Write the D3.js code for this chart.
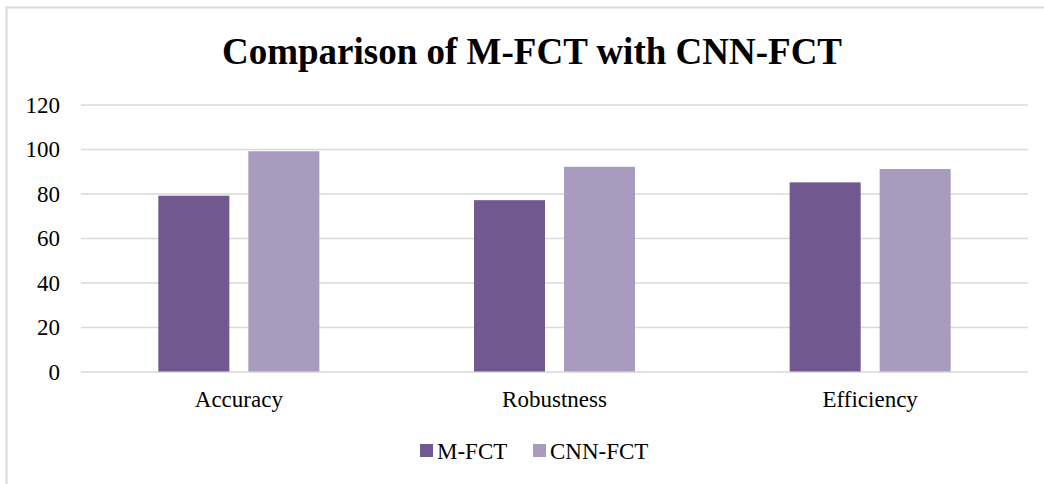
<!DOCTYPE html>
<html>
<head>
<meta charset="utf-8">
<script src="https://cdn.jsdelivr.net/npm/d3@7"></script>
<style>
  html, body { margin: 0; padding: 0; background: #fff; }
  svg { display: block; }
</style>
</head>
<body>
<svg id="chart" width="1044" height="484"></svg>
<script>
const categories = ["Accuracy", "Robustness", "Efficiency"];
const seriesNames = ["M-FCT", "CNN-FCT"];
const mfctValues = [79, 77, 85];
const cnnfctValues = [99, 92, 91];
const yTicks = [0, 20, 40, 60, 80, 100, 120];
const seriesColors = ["#71588F", "#A99BBD"];
const title = "Comparison of M-FCT with CNN-FCT";

const FONT = "'Liberation Serif'";
const seriesValues = [mfctValues, cnnfctValues];
const data = categories.map((c, i) => ({ category: c, values: seriesNames.map((s, j) => ({ series: s, value: seriesValues[j][i], idx: j })) }));

const svg = d3.select("#chart");
const W = 1044, H = 484;
const plot = { left: 81, right: 1028, top: 104.5, bottom: 371.5 };

// frame
svg.append("rect").attr("x", 6.5).attr("y", 7.5).attr("width", W + 10).attr("height", H + 10)
  .attr("fill", "#fff").attr("stroke", "#d9d9d9").attr("stroke-width", 2);

// title
svg.append("text").attr("x", 532).attr("y", 63.5).attr("text-anchor", "middle")
  .style("font-family", FONT).style("font-size", "37px").style("font-weight", "bold").style("fill", "#000")
  .text(title);

const y = d3.scaleLinear().domain([0, 120]).range([plot.bottom, plot.top]);
const x0 = d3.scaleBand().domain(categories).range([plot.left, plot.right]).padding(0);
const x1 = d3.scaleBand().domain(seriesNames).range([0, x0.bandwidth()]).paddingInner(0.211).paddingOuter(0.859);

// gridlines + y labels
const yAxis = d3.axisLeft(y).tickValues(yTicks).tickSize(-(plot.right - plot.left)).tickPadding(21).tickFormat(d3.format("d"));
const gy = svg.append("g").attr("transform", `translate(${plot.left},0)`).call(yAxis);
gy.attr("font-family", null);
gy.select(".domain").remove();
gy.selectAll(".tick line").attr("stroke", "#d9d9d9").attr("stroke-width", 1.5);
gy.selectAll(".tick text").style("font-size", "23px").style("font-family", FONT).style("fill", "#000").attr("dy", "0.33em");

// bars
const groups = svg.append("g").selectAll("g").data(data).join("g")
  .attr("transform", d => `translate(${x0(d.category)},0)`);
groups.selectAll("rect").data(d => d.values).join("rect")
  .attr("x", d => x1(d.series))
  .attr("width", x1.bandwidth())
  .attr("y", d => y(d.value))
  .attr("height", d => y(0) - y(d.value))
  .attr("fill", d => seriesColors[d.idx]);

// x axis labels
const xAxis = d3.axisBottom(x0).tickSize(0);
const gx = svg.append("g").attr("transform", `translate(0,${plot.bottom})`).call(xAxis);
gx.attr("font-family", null);
gx.select(".domain").remove();
gx.selectAll(".tick text").attr("y", 35).attr("dy", 0)
  .style("font-size", "23px").style("font-family", FONT).style("fill", "#000");

// legend
const legendItems = [{ name: seriesNames[0], x: 420 }, { name: seriesNames[1], x: 533 }];
const legend = svg.append("g");
legendItems.forEach((it, i) => {
  legend.append("rect").attr("x", it.x).attr("y", 444).attr("width", 13).attr("height", 13).attr("fill", seriesColors[i]);
  legend.append("text").attr("x", it.x + 17).attr("y", 459)
    .style("font-size", "23px").style("font-family", FONT).style("fill", "#000").text(it.name);
});
</script>
</body>
</html>
